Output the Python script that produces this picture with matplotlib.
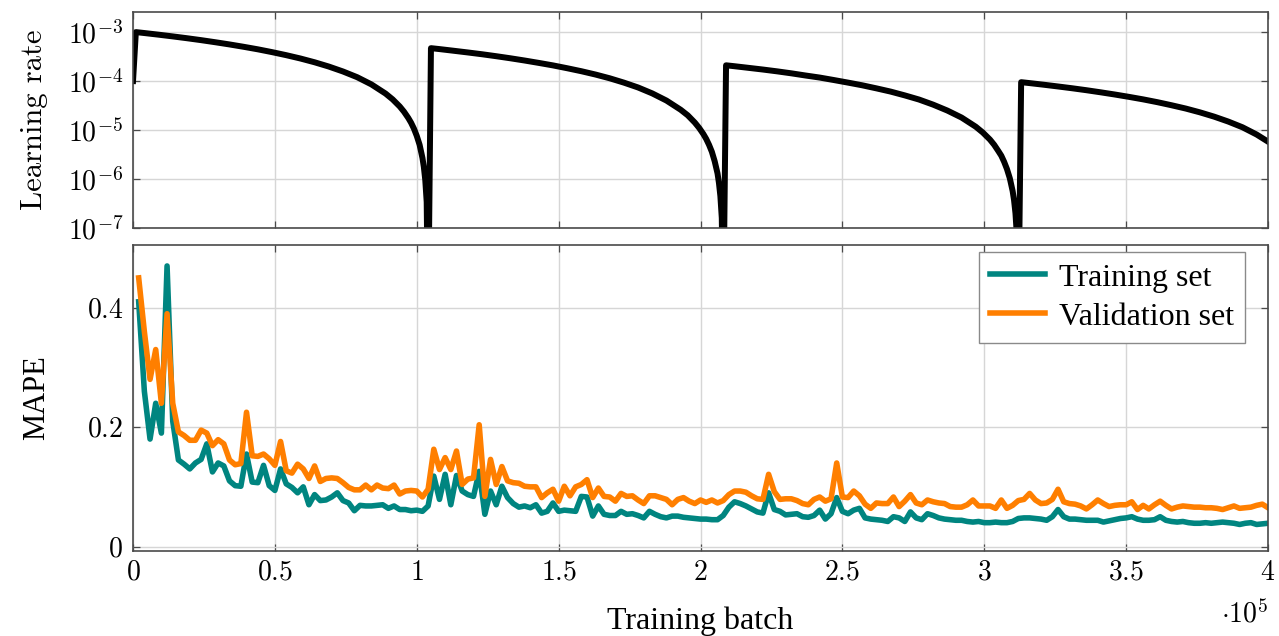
#!/usr/bin/env python3
"""
lr_mape.py - learning rate schedule and MAPE over training batches
"""

import numpy as np
import matplotlib
matplotlib.use("Agg")
import matplotlib.pyplot as plt
from matplotlib.ticker import FixedLocator, FuncFormatter, NullLocator


# -------------------------------------------------------------
#                   DATA (x in units of 1e5 batches)
# -------------------------------------------------------------
# learning rate, four warm restarts (values below 1e-7 fall off the axis)
lr_batch = [
    0.00, 0.01, 0.04, 0.09, 0.14, 0.19, 0.24, 0.29, 0.34, 0.39, 0.44,
    0.49, 0.54, 0.59, 0.64, 0.69, 0.74, 0.79, 0.84, 0.89, 0.915, 0.94,
    0.955, 0.97, 0.98, 0.99, 1.00, 1.01, 1.02, 1.025, 1.03, 1.035,
    1.04, 1.05, 1.08, 1.13, 1.18, 1.23, 1.28, 1.33, 1.38, 1.43, 1.48,
    1.53, 1.58, 1.63, 1.68, 1.73, 1.78, 1.83, 1.88, 1.93, 1.955, 1.98,
    1.995, 2.01, 2.02, 2.03, 2.04, 2.05, 2.06, 2.065, 2.07, 2.075,
    2.08, 2.09, 2.12, 2.17, 2.22, 2.27, 2.32, 2.37, 2.42, 2.47, 2.52,
    2.57, 2.62, 2.67, 2.72, 2.77, 2.82, 2.87, 2.92, 2.97, 2.995, 3.02,
    3.035, 3.05, 3.06, 3.07, 3.08, 3.09, 3.10, 3.105, 3.11, 3.115,
    3.12, 3.13, 3.16, 3.21, 3.26, 3.31, 3.36, 3.41, 3.46, 3.51, 3.56,
    3.61, 3.66, 3.71, 3.76, 3.81, 3.86, 3.91, 3.96, 4.00,
]
lr_value = [
    1.0e-4, 1.0e-3, 9.57e-4, 8.86e-4, 8.17e-4, 7.50e-4, 6.85e-4, 6.21e-4, 5.60e-4, 5.01e-4, 4.45e-4,
    3.90e-4, 3.38e-4, 2.89e-4, 2.42e-4, 1.98e-4, 1.57e-4, 1.20e-4, 8.56e-5, 5.56e-5, 4.23e-5, 3.03e-5,
    2.37e-5, 1.77e-5, 1.41e-5, 1.07e-5, 7.6e-6, 5.0e-6, 2.7e-6, 1.76e-6, 9.5e-7, 3.4e-7,
    1e-9, 4.70e-4, 4.50e-4, 4.16e-4, 3.84e-4, 3.53e-4, 3.22e-4, 2.92e-4, 2.63e-4, 2.35e-4, 2.09e-4,
    1.83e-4, 1.59e-4, 1.36e-4, 1.14e-4, 9.3e-5, 7.4e-5, 5.6e-5, 4.0e-5, 2.6e-5, 2.0e-5, 1.42e-5,
    1.11e-5, 8.3e-6, 6.6e-6, 5.0e-6, 3.6e-6, 2.3e-6, 1.3e-6, 8.3e-7, 4.5e-7, 1.6e-7,
    1e-9, 2.10e-4, 2.01e-4, 1.86e-4, 1.72e-4, 1.58e-4, 1.44e-4, 1.30e-4, 1.18e-4, 1.05e-4, 9.3e-5,
    8.2e-5, 7.1e-5, 6.1e-5, 5.1e-5, 4.2e-5, 3.3e-5, 2.5e-5, 1.8e-5, 1.17e-5, 8.9e-6, 6.4e-6,
    5.0e-6, 3.7e-6, 3.0e-6, 2.25e-6, 1.6e-6, 1.04e-6, 5.7e-7, 3.7e-7, 2.0e-7, 7e-8,
    1e-9, 9.5e-5, 9.09e-5, 8.42e-5, 7.76e-5, 7.13e-5, 6.51e-5, 5.90e-5, 5.32e-5, 4.76e-5, 4.23e-5,
    3.71e-5, 3.21e-5, 2.75e-5, 2.30e-5, 1.88e-5, 1.49e-5, 1.14e-5, 8.1e-6, 5.8e-6,
]

# MAPE logged every 0.02e5 batches
mape_batch = np.arange(1, 201) * 0.02

train_mape = [
    0.41, 0.26, 0.18, 0.24, 0.19, 0.47, 0.21, 0.145, 0.138, 0.13,
    0.14, 0.146, 0.172, 0.125, 0.14, 0.135, 0.11, 0.102, 0.101, 0.155,
    0.108, 0.107, 0.136, 0.102, 0.094, 0.13, 0.105, 0.099, 0.09, 0.1,
    0.07, 0.087, 0.077, 0.078, 0.083, 0.09, 0.077, 0.073, 0.06, 0.069,
    0.068, 0.068, 0.069, 0.07, 0.064, 0.068, 0.062, 0.062, 0.06, 0.061,
    0.059, 0.068, 0.118, 0.079, 0.121, 0.07, 0.119, 0.093, 0.087, 0.084,
    0.126, 0.054, 0.093, 0.07, 0.101, 0.082, 0.072, 0.066, 0.068, 0.065,
    0.07, 0.056, 0.059, 0.073, 0.059, 0.061, 0.06, 0.059, 0.084, 0.083,
    0.051, 0.068, 0.054, 0.052, 0.052, 0.059, 0.054, 0.055, 0.052, 0.048,
    0.059, 0.054, 0.05, 0.048, 0.051, 0.051, 0.049, 0.048, 0.047, 0.046,
    0.046, 0.045, 0.045, 0.052, 0.066, 0.075, 0.072, 0.068, 0.063, 0.058,
    0.056, 0.09, 0.062, 0.059, 0.053, 0.054, 0.055, 0.05, 0.049, 0.052,
    0.061, 0.046, 0.055, 0.082, 0.059, 0.055, 0.061, 0.064, 0.048, 0.046,
    0.045, 0.044, 0.042, 0.05, 0.048, 0.042, 0.058, 0.048, 0.045, 0.055,
    0.052, 0.048, 0.046, 0.045, 0.044, 0.044, 0.042, 0.041, 0.042, 0.04,
    0.04, 0.041, 0.04, 0.04, 0.042, 0.047, 0.048, 0.048, 0.047, 0.046,
    0.044, 0.05, 0.062, 0.05, 0.046, 0.046, 0.045, 0.044, 0.044, 0.044,
    0.041, 0.043, 0.045, 0.047, 0.048, 0.05, 0.046, 0.044, 0.044, 0.045,
    0.05, 0.044, 0.042, 0.041, 0.042, 0.04, 0.039, 0.039, 0.04, 0.039,
    0.04, 0.041, 0.04, 0.039, 0.037, 0.039, 0.04, 0.037, 0.038, 0.039,
]

val_mape = [
    0.45, 0.36, 0.28, 0.33, 0.24, 0.39, 0.24, 0.192, 0.186, 0.178,
    0.178, 0.195, 0.19, 0.169, 0.179, 0.172, 0.145, 0.137, 0.139, 0.225,
    0.152, 0.151, 0.155, 0.147, 0.136, 0.176, 0.127, 0.123, 0.138, 0.13,
    0.114, 0.135, 0.109, 0.114, 0.115, 0.114, 0.107, 0.099, 0.095, 0.095,
    0.103, 0.095, 0.103, 0.098, 0.097, 0.103, 0.088, 0.093, 0.094, 0.093,
    0.083, 0.096, 0.163, 0.129, 0.149, 0.129, 0.16, 0.104, 0.113, 0.115,
    0.204, 0.084, 0.146, 0.104, 0.134, 0.11, 0.107, 0.106, 0.101, 0.1,
    0.1, 0.082, 0.09, 0.096, 0.076, 0.101, 0.085, 0.1, 0.104, 0.112,
    0.082, 0.098, 0.084, 0.083, 0.076, 0.089, 0.084, 0.085, 0.078, 0.072,
    0.085, 0.085, 0.082, 0.079, 0.07, 0.079, 0.082, 0.076, 0.072, 0.078,
    0.074, 0.078, 0.073, 0.077, 0.087, 0.093, 0.093, 0.091, 0.085, 0.08,
    0.079, 0.121, 0.092, 0.079, 0.08, 0.08, 0.077, 0.072, 0.07, 0.079,
    0.083, 0.076, 0.08, 0.14, 0.083, 0.082, 0.093, 0.085, 0.071, 0.064,
    0.073, 0.072, 0.072, 0.083, 0.067, 0.076, 0.087, 0.073, 0.07, 0.078,
    0.075, 0.073, 0.072, 0.067, 0.066, 0.066, 0.07, 0.078, 0.068, 0.068,
    0.068, 0.064, 0.078, 0.064, 0.069, 0.077, 0.079, 0.089, 0.078, 0.072,
    0.073, 0.079, 0.096, 0.075, 0.072, 0.071, 0.068, 0.063, 0.07, 0.078,
    0.072, 0.067, 0.069, 0.07, 0.07, 0.075, 0.062, 0.069, 0.063, 0.07,
    0.076, 0.069, 0.063, 0.066, 0.068, 0.067, 0.066, 0.066, 0.065, 0.065,
    0.064, 0.062, 0.065, 0.068, 0.064, 0.065, 0.066, 0.069, 0.071, 0.065,
]

x_ticks = [0, 0.5, 1, 1.5, 2, 2.5, 3, 3.5, 4]
lr_ticks = [1e-7, 1e-6, 1e-5, 1e-4, 1e-3]
mape_ticks = [0, 0.2, 0.4]


# -------------------------------------------------------------
#                   STYLE
# -------------------------------------------------------------
plt.rcParams["mathtext.fontset"] = "cm"
plt.rcParams["font.family"] = ["Liberation Serif", "DejaVu Serif"]

TEAL = "#008580"
ORANGE = "#ff7f00"
FRAME = "#4a4a4a"
GRID = "#d6d6d6"
TICK_FS = 20
LABEL_FS = 22
LEGEND_FS = 23


def style_axis(ax):
    for sp in ax.spines.values():
        sp.set_color(FRAME)
        sp.set_linewidth(1.2)
    ax.grid(True, color=GRID, linewidth=1.0)
    ax.set_axisbelow(True)
    ax.tick_params(direction="in", length=5, width=0.9, color=FRAME,
                   top=True, right=True, labelsize=TICK_FS, pad=7)
    ax.xaxis.set_major_locator(FixedLocator(x_ticks))
    ax.set_xlim(0, 4)


math_fmt = FuncFormatter(lambda v, _: r"$%g$" % v)
pow_fmt = FuncFormatter(lambda v, _: r"$10^{%d}$" % round(np.log10(v)))


# -------------------------------------------------------------
#                   FIGURE
# -------------------------------------------------------------
fig = plt.figure(figsize=(12.79, 6.36), dpi=100)
ax1 = fig.add_axes([0.104, 0.6415, 0.8874, 0.3396])
ax2 = fig.add_axes([0.104, 0.1336, 0.8874, 0.4811])

# top: learning rate
ax1.semilogy(lr_batch, lr_value, color="black", linewidth=4.3,
             solid_joinstyle="round")
style_axis(ax1)
ax1.set_ylim(1e-7, 10 ** -2.59)
ax1.yaxis.set_major_locator(FixedLocator(lr_ticks))
ax1.yaxis.set_minor_locator(NullLocator())
ax1.yaxis.set_major_formatter(pow_fmt)
ax1.tick_params(labelbottom=False)
ax1.set_ylabel("Learning rate", family="cmr10", fontsize=LABEL_FS)
ax1.yaxis.set_label_coords(-0.075, 0.5)

# bottom: MAPE
ax2.plot(mape_batch, train_mape, color=TEAL, linewidth=4.0,
         solid_joinstyle="round", label="Training set")
ax2.plot(mape_batch, val_mape, color=ORANGE, linewidth=4.0,
         solid_joinstyle="round", label="Validation set")
style_axis(ax2)
ax2.set_ylim(-0.0075, 0.505)
ax2.yaxis.set_major_locator(FixedLocator(mape_ticks))
ax2.yaxis.set_major_formatter(math_fmt)
ax2.xaxis.set_major_formatter(math_fmt)
ax2.set_ylabel("MAPE", fontsize=LABEL_FS)
ax2.yaxis.set_label_coords(-0.072, 0.5)
ax2.set_xlabel("Training batch", fontsize=LEGEND_FS)
ax2.xaxis.set_label_coords(0.5, -0.18)
ax2.text(1.0, -0.16, r"$\cdot 10^5$", transform=ax2.transAxes,
         ha="right", va="top", fontsize=TICK_FS)

leg = ax2.legend(loc="upper right", bbox_to_anchor=(0.98, 0.977),
                 fontsize=LEGEND_FS, frameon=True, fancybox=False,
                 edgecolor="#8a8a8a", framealpha=1, handlelength=1.7,
                 borderpad=0.35, labelspacing=0.3, handletextpad=0.45,
                 borderaxespad=0)
leg.get_frame().set_linewidth(1.0)

fig.savefig("out.png", dpi=100)
